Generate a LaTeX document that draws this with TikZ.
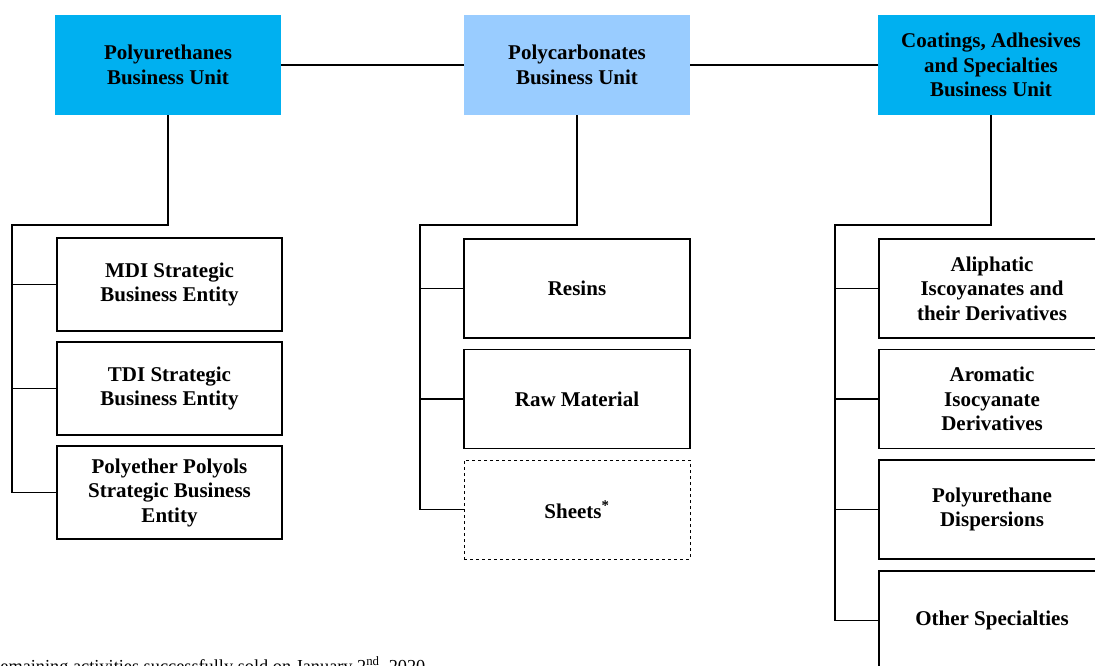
\documentclass[tikz,border=0pt]{standalone}
\usepackage{fontspec}
\setmainfont{Liberation Serif}
\usetikzlibrary{positioning}
\definecolor{unitblue}{HTML}{00B0F0}
\definecolor{unitlight}{HTML}{99CCFF}
\begin{document}
\begin{tikzpicture}[x=1pt, y=-1pt, node distance=104pt]

% Define styles
\tikzstyle{unit} = [rectangle, minimum width=226pt, minimum height=100pt, align=center, font=\fontsize{21}{24.5}\selectfont\bfseries, inner sep=0pt]
\tikzstyle{entity} = [draw, line width=1.1pt, rectangle, minimum width=225pt, minimum height=93pt, align=center, font=\fontsize{21}{24.5}\selectfont\bfseries, inner sep=0pt]
\tikzstyle{line} = [line width=1.6pt]

\useasboundingbox (0,0) rectangle (1095,666);
\clip (0,0) rectangle (1095,666);

% Business units
\node[unit, fill=unitblue] (pu) at (168,65) {Polyurethanes\\Business Unit};
\node[unit, fill=unitlight] (pc) at (577,65) {Polycarbonates\\Business Unit};
\node[unit, fill=unitblue] (cas) at (991,65) {Coatings, Adhesives\\and Specialties\\Business Unit};

% Polyurethanes entities
\node[entity] (mdi) at (169.5,284.5) {MDI Strategic\\Business Entity};
\node[entity, below of=mdi] (tdi) {TDI Strategic\\Business Entity};
\node[entity, below of=tdi] (pep) {Polyether Polyols\\Strategic Business\\Entity};

% Polycarbonates entities
\node[entity, minimum width=226pt, minimum height=99pt] (resins) at (577,288.5) {Resins};
\node[entity, minimum width=226pt, minimum height=99pt, below of=resins, node distance=110.5pt] (raw) {Raw Material};
\node[entity, minimum width=226pt, minimum height=99pt, below of=raw, node distance=110.5pt, dashed, line width=0.9pt] (sheets) {Sheets\textsuperscript{*}};

% Coatings entities
\node[entity, minimum width=226pt, minimum height=99pt] (ali) at (992,288.5) {Aliphatic\\Iscoyanates and\\their Derivatives};
\node[entity, minimum width=226pt, minimum height=99pt, below of=ali, node distance=110.5pt] (aro) {Aromatic\\Isocyanate\\Derivatives};
\node[entity, minimum width=226pt, minimum height=99pt, below of=aro, node distance=110.5pt] (pud) {Polyurethane\\Dispersions};
\node[entity, minimum width=226pt, minimum height=99pt, below of=pud, node distance=111pt] (other) {Other Specialties};

% Bus coordinates
\coordinate (pubus) at (12,225);
\coordinate (pcbus) at (420,225);
\coordinate (casbus) at (835,225);

% Lines
\draw[line] (pu.east) -- (pc.west);
\draw[line] (pc.east) -- (cas.west);

\draw[line] (pu.south) |- (pubus) -- (pubus |- pep.west);
\draw[line] (pubus |- mdi.west) -- (mdi.west);
\draw[line] (pubus |- tdi.west) -- (tdi.west);
\draw[line] (pubus |- pep.west) -- (pep.west);

\draw[line] (pc.south) |- (pcbus) -- (pcbus |- sheets.west);
\draw[line] (pcbus |- resins.west) -- (resins.west);
\draw[line] (pcbus |- raw.west) -- (raw.west);
\draw[line] (pcbus |- sheets.west) -- (sheets.west);

\draw[line] (cas.south) |- (casbus) -- (casbus |- other.west);
\draw[line] (casbus |- ali.west) -- (ali.west);
\draw[line] (casbus |- aro.west) -- (aro.west);
\draw[line] (casbus |- pud.west) -- (pud.west);
\draw[line] (casbus |- other.west) -- (other.west);

% Footnote
\node[anchor=base west, inner sep=0pt, font=\fontsize{18.3}{22}\selectfont] (note) at (-12,672) {Remaining activities successfully sold on January 2\textsuperscript{nd}, 2020};

\end{tikzpicture}
\end{document}
